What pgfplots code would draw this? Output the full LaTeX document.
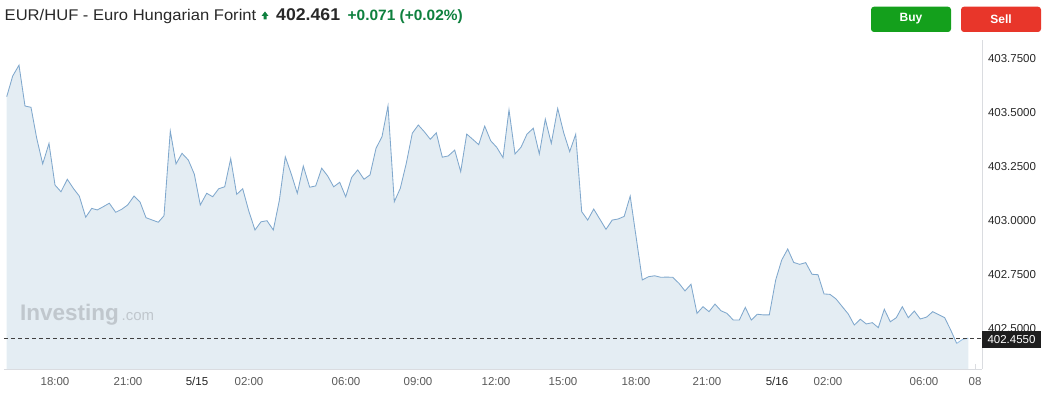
\documentclass[border=0pt]{standalone}
\usepackage{pgfplots}
\pgfplotsset{compat=1.18}
\usepackage{pgfplotstable}
\usepackage{fontspec}
\setmainfont{Liberation Sans}
\definecolor{linec}{RGB}{128,168,205}
\definecolor{linec2}{RGB}{150,192,230}
\definecolor{fillc}{RGB}{228,237,243}
\definecolor{axc}{RGB}{218,220,224}
\definecolor{txt}{RGB}{40,40,40}
\definecolor{tlab}{RGB}{90,90,90}
\definecolor{dlab}{RGB}{34,34,34}
\definecolor{upg}{RGB}{14,128,62}
\definecolor{buyg}{RGB}{20,160,28}
\definecolor{sellr}{RGB}{232,54,42}
\definecolor{wm}{RGB}{192,199,205}
\definecolor{boxc}{RGB}{30,30,30}

\pgfplotstableread{
x y
6.7 403.573
12.7 403.669
19.0 403.719
25.0 403.530
31.0 403.524
36.7 403.381
42.7 403.262
49.0 403.357
55.0 403.164
61.0 403.133
67.3 403.191
73.3 403.149
79.3 403.113
85.7 403.015
91.7 403.056
97.3 403.049
103.3 403.064
109.3 403.080
115.7 403.038
121.7 403.052
127.7 403.072
134.0 403.113
140.0 403.086
146.0 403.013
152.3 403.002
158.3 402.992
164.0 403.022
170.3 403.414
176.0 403.262
182.0 403.311
188.3 403.280
194.3 403.215
200.3 403.072
206.7 403.126
212.7 403.110
218.7 403.147
224.7 403.156
230.7 403.286
236.7 403.121
242.7 403.147
248.7 403.045
255.0 402.956
261.0 402.994
267.0 402.999
273.3 402.956
279.3 403.092
285.3 403.295
291.3 403.215
297.3 403.126
303.3 403.252
309.7 403.154
315.7 403.160
321.7 403.242
327.7 403.206
333.7 403.156
339.7 403.177
345.7 403.110
351.7 403.200
357.7 403.234
364.0 403.191
370.0 403.211
376.0 403.334
382.0 403.388
388.0 403.531
394.3 403.087
400.3 403.149
406.3 403.265
412.3 403.404
418.3 403.442
424.3 403.411
430.3 403.376
436.3 403.406
442.3 403.293
448.3 403.299
454.7 403.326
460.7 403.226
466.7 403.400
472.7 403.376
478.7 403.351
484.7 403.437
490.7 403.369
496.7 403.339
503.0 403.291
509.0 403.512
515.0 403.308
521.0 403.339
527.0 403.400
533.3 403.427
539.3 403.308
545.3 403.469
551.3 403.357
557.7 403.519
563.7 403.406
569.7 403.319
575.7 403.399
581.7 403.041
587.7 403.002
593.7 403.053
600.0 403.005
606.0 402.959
612.2 403.002
618.2 403.007
624.2 403.019
630.2 403.113
642.3 402.725
648.7 402.740
654.7 402.744
660.7 402.737
666.7 402.738
672.7 402.737
679.0 402.709
685.0 402.674
691.0 402.705
697.0 402.570
703.0 402.601
709.0 402.578
715.0 402.613
721.0 402.582
727.0 402.570
733.3 402.539
739.3 402.539
745.3 402.598
751.3 402.539
757.3 402.566
763.3 402.563
769.3 402.563
775.7 402.725
781.7 402.817
787.7 402.868
793.7 402.806
799.7 402.797
805.7 402.805
812.0 402.751
818.0 402.749
824.0 402.660
830.0 402.658
836.0 402.637
842.3 402.601
848.3 402.567
854.3 402.516
860.3 402.543
866.3 402.521
872.3 402.527
878.3 402.504
884.3 402.589
890.3 402.531
896.3 402.550
902.3 402.601
908.3 402.550
914.3 402.581
920.3 402.544
926.7 402.553
932.7 402.578
938.7 402.564
944.7 402.550
950.7 402.493
956.7 402.431
962.7 402.450
968.3 402.455
}\data

\begin{document}
\begin{tikzpicture}
\path[use as bounding box] (0pt,0pt) rectangle (1045pt,404pt);
\begin{axis}[
  at={(4pt,35pt)}, anchor=south west,
  scale only axis, width=978pt, height=329pt,
  xmin=4, xmax=982, ymin=402.3125, ymax=403.8356,
  axis x line*=bottom, axis y line*=right,
  axis line style={axc, line width=0.8pt, -},
  tick align=inside, major tick length=5pt,
  tick style={axc, line width=0.8pt},
  every y tick/.style={draw=none},
  xtick={55,128,197,249,346,418,496,563,636,707,777,828,924,975},
  xticklabels={18:00,21:00,\textcolor{dlab}{5/15},02:00,06:00,09:00,12:00,15:00,18:00,21:00,\textcolor{dlab}{5/16},02:00,06:00,08},
  ytick={402.5,402.75,403,403.25,403.5,403.75},
  y tick label style={/pgf/number format/fixed, /pgf/number format/fixed zerofill, /pgf/number format/precision=4, /pgf/number format/1000 sep={}, /pgf/number format/assume math mode=true, anchor=west, xshift=2.5pt, font=\fontsize{11.5}{13}\selectfont, text=txt},
  x tick label style={font=\fontsize{11.5}{13}\selectfont, text=tlab, yshift=-5pt},
  clip=true,
]
\addplot[draw=none, fill=fillc] table[x=x,y=y]{\data} \closedcycle;
\addplot[linec, line width=0.85pt] table[x=x,y=y, restrict x to domain=0:957]{\data};
\addplot[linec2, line width=0.85pt] table[x=x,y=y, restrict x to domain=956:970]{\data};
\addplot[black!75, line width=0.8pt, dash pattern=on 4pt off 3pt] coordinates {(4,402.455) (982,402.455)};
\end{axis}
% price box
\fill[boxc] (982pt,56pt) rectangle (1041pt,73pt);
\node[text=white, font=\fontsize{11.5}{13}\selectfont] at (1011.5pt,64.5pt) {402.4550};
% watermark
\node[anchor=base west, inner sep=0, text=wm, font=\fontsize{22.5}{24}\bfseries] at (20pt,83pt) {Investing};
\node[anchor=base west, inner sep=0, text=wm, font=\fontsize{15}{16}\selectfont] at (121.5pt,83pt) {.com};
% header
\node[anchor=base west, inner sep=0, text=txt, font=\fontsize{15.5}{17}\selectfont] at (4.5pt,383.3pt) {\scalebox{1.07}[1]{EUR/HUF - Euro Hungarian Forint}};
\fill[upg] (261.5pt,388pt) -- (265pt,392.5pt) -- (268.5pt,388pt) -- (266.5pt,388pt) -- (266.5pt,384.5pt) -- (263.5pt,384.5pt) -- (263.5pt,388pt) -- cycle;
\node[anchor=base west, inner sep=0, text=txt, font=\fontsize{17}{19}\bfseries] at (276pt,383.3pt) {\scalebox{1.04}[1]{402.461}};
\node[anchor=base west, inner sep=0, text=upg, font=\fontsize{15}{17}\bfseries] at (347.5pt,383.3pt) {\scalebox{1.03}[1]{+0.071 (+0.02\%)}};
% buttons
\fill[buyg, rounded corners=3pt] (871pt,372pt) rectangle (951pt,397.3pt);
\node[text=white, font=\fontsize{12}{14}\bfseries] at (911pt,385pt) {Buy};
\fill[sellr, rounded corners=3pt] (961pt,372pt) rectangle (1041pt,397.3pt);
\node[text=white, font=\fontsize{12}{14}\bfseries] at (1001pt,385pt) {Sell};
\end{tikzpicture}
\end{document}
